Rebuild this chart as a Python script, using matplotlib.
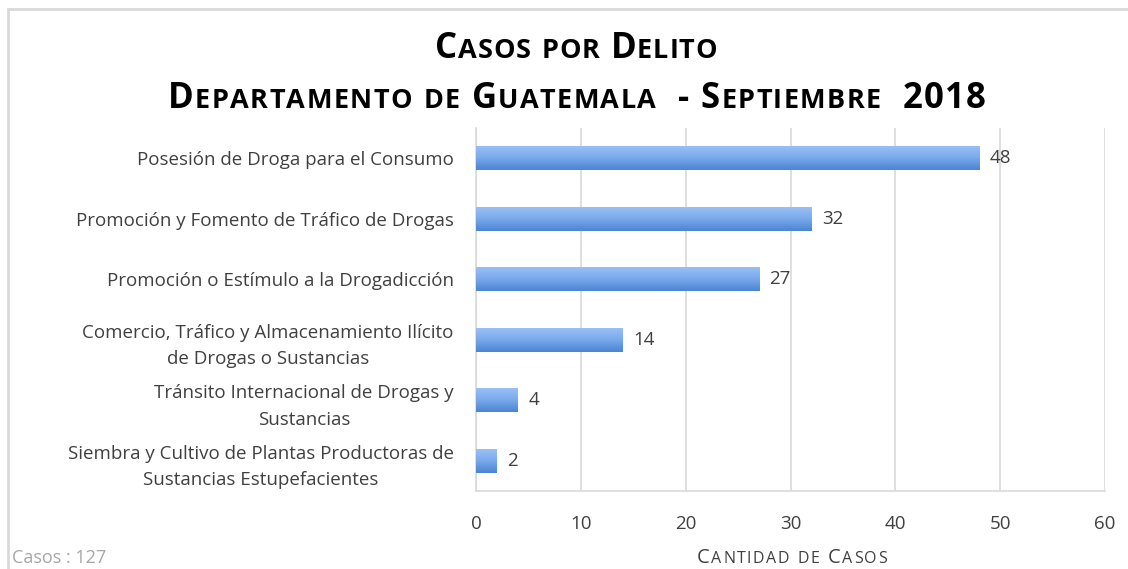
import numpy as np
import matplotlib
matplotlib.use("Agg")
import matplotlib.pyplot as plt
from matplotlib.patches import Rectangle

# data
delitos = [
    "Posesión de Droga para el Consumo",
    "Promoción y Fomento de Tráfico de Drogas",
    "Promoción o Estímulo a la Drogadicción",
    "Comercio, Tráfico y Almacenamiento Ilícito\nde Drogas o Sustancias",
    "Tránsito Internacional de Drogas y\nSustancias",
    "Siembra y Cultivo de Plantas Productoras de\nSustancias Estupefacientes",
]
casos = [48, 32, 27, 14, 4, 2]
xticks = [0, 10, 20, 30, 40, 50, 60]

title1 = "Casos por Delito"
title2 = "Departamento de Guatemala  - Septiembre  2018"
xlabel = "Cantidad de Casos"
nota = "Casos : 127"

FONT = "Open Sans"
W, H = 1128, 569

fig = plt.figure(figsize=(W / 100, H / 100), dpi=100)
fig.patch.set_facecolor("white")

# light border of the chart area
fig.patches.append(Rectangle((8 / W, -0.1), 1.2, 1 - 9 / H + 0.1,
                             transform=fig.transFigure, fill=False,
                             edgecolor="#D9D9D9", linewidth=2))

ax = fig.add_axes([476 / W, 1 - 491 / H, 629 / W, 363 / H])
y = np.arange(len(casos))
bars = ax.barh(y, casos, height=0.4, color="#6C9FE6", zorder=3)

# vertical gradient inside each bar (light top, darker bottom)
grad = np.linspace(0, 1, 64).reshape(-1, 1)
cmap = matplotlib.colors.LinearSegmentedColormap.from_list(
    "g", ["#9CC2F7", "#7AAAEC", "#4A85D3"])
for b in bars:
    x0, y0 = b.get_x(), b.get_y()
    w, h = b.get_width(), b.get_height()
    im = ax.imshow(grad, cmap=cmap, aspect="auto", zorder=4,
                   extent=[x0, x0 + w, y0 + h, y0], origin="upper")
    im.set_clip_path(b)

for yi, v in zip(y, casos):
    ax.text(v + 1.0, yi, str(v), va="center", ha="left", fontsize=13.5,
            color="#404040", family=FONT, zorder=5)

ax.set_xlim(0, 60)
ax.set_ylim(len(casos) - 0.5, -0.5)
ax.set_xticks(xticks)
ax.set_xticklabels([str(t) for t in xticks])
ax.set_yticks(y)
ax.set_yticklabels(delitos, multialignment="center", linespacing=1.6)
ax.tick_params(axis="both", length=0, labelsize=13.5, labelcolor="#404040")
ax.tick_params(axis="y", pad=16)
ax.tick_params(axis="x", pad=17)
for lab in ax.get_xticklabels() + ax.get_yticklabels():
    lab.set_family(FONT)
ax.grid(axis="x", color="#D9D9D9", linewidth=1.2, zorder=0)
for s in ["top", "right"]:
    ax.spines[s].set_visible(False)
for s in ["left", "bottom"]:
    ax.spines[s].set_color("#D9D9D9")
    ax.spines[s].set_linewidth(1.2)

fig.canvas.draw()
renderer = fig.canvas.get_renderer()


def small_caps(text, x_left, width, y_base, big, small, weight="normal",
               color="black"):
    # fake small caps, one glyph at a time, spread to the given width
    pieces = []
    natural = 0
    for ch in text:
        size = small if ch.islower() else big
        t = fig.text(0, 1 - y_base / H, ch.upper(), fontsize=size,
                     fontweight=weight, color=color, family=FONT,
                     va="baseline", ha="left")
        if ch == " ":
            wpx = size * 0.26 * 100 / 72
        else:
            wpx = t.get_window_extent(renderer).width
        pieces.append((t, wpx))
        natural += wpx
    track = (width - natural) / max(len(pieces) - 1, 1)
    x = x_left
    for t, wpx in pieces:
        t.set_x(x / W)
        x += wpx + track


small_caps(title1, 435, 282, 58, 25, 19.5, weight="bold")
small_caps(title2, 168, 818, 108, 25, 19.5, weight="bold")
small_caps(xlabel, 697, 190, 563, 14.5, 11.5, color="#404040")
fig.text(12 / W, 1 - 563 / H, nota, fontsize=13, color="#A6A6A6",
         family=FONT, va="baseline", ha="left")

fig.savefig("out.png", dpi=100)
